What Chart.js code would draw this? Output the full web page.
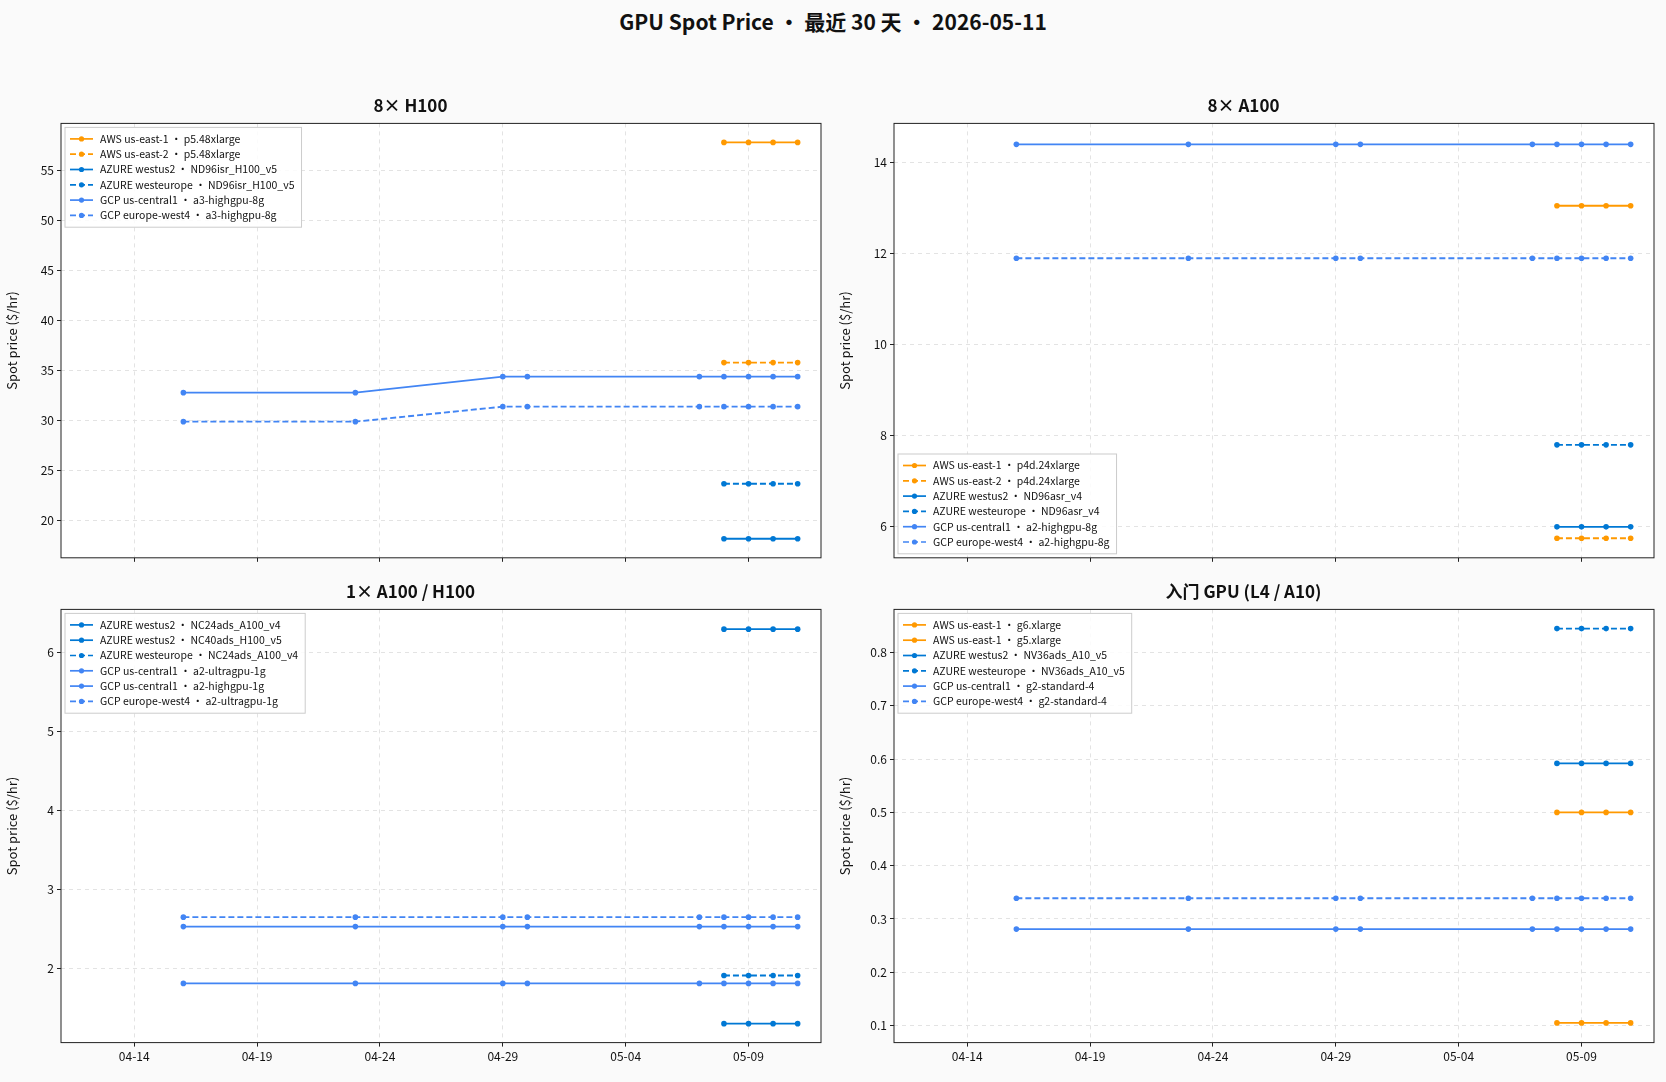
<!DOCTYPE html>
<html><head><meta charset="utf-8">
<script src="https://cdn.jsdelivr.net/npm/chart.js@4"></script>
<style>
body{margin:0;background:#fafafa;font-family:"Noto Sans CJK SC",sans-serif;}
#sup{position:absolute;top:6px;left:0;width:1666px;text-align:center;font-weight:bold;font-size:21px;color:#111;}
.box{position:absolute;}
</style></head><body>
<div id="sup">GPU Spot Price · 最近 30 天 · 2026-05-11</div>
<div class="box" style="left:0;top:93px;width:831px;height:475px"><canvas id="c0"></canvas></div>
<div class="box" style="left:833px;top:93px;width:831px;height:475px"><canvas id="c1"></canvas></div>
<div class="box" style="left:0;top:579px;width:831px;height:488px"><canvas id="c2"></canvas></div>
<div class="box" style="left:833px;top:579px;width:831px;height:488px"><canvas id="c3"></canvas></div>
<script>
const AWS = '#ff9900', AZ = '#0078d4', GCP = '#4285f4';
const longDates = ['04-16','04-23','04-29','04-30','05-07','05-08','05-09','05-10','05-11'];
const lateDates = ['05-08','05-09','05-10','05-11'];
const tickDates = ['04-14','04-19','04-24','04-29','05-04','05-09'];

// 8x H100
const h100Names = ['AWS us-east-1 · p5.48xlarge','AWS us-east-2 · p5.48xlarge','AZURE westus2 · ND96isr_H100_v5','AZURE westeurope · ND96isr_H100_v5','GCP us-central1 · a3-highgpu-8g','GCP europe-west4 · a3-highgpu-8g'];
const h100AwsE1 = [57.8,57.8,57.8,57.8];
const h100AwsE2 = [35.8,35.8,35.8,35.8];
const h100AzWus2 = [18.2,18.2,18.2,18.2];
const h100AzWeu = [23.7,23.7,23.7,23.7];
const h100GcpUsc = [32.8,32.8,34.4,34.4,34.4,34.4,34.4,34.4,34.4];
const h100GcpEuw = [29.9,29.9,31.4,31.4,31.4,31.4,31.4,31.4,31.4];

// 8x A100
const a100Names = ['AWS us-east-1 · p4d.24xlarge','AWS us-east-2 · p4d.24xlarge','AZURE westus2 · ND96asr_v4','AZURE westeurope · ND96asr_v4','GCP us-central1 · a2-highgpu-8g','GCP europe-west4 · a2-highgpu-8g'];
const a100AwsE1 = [13.05,13.05,13.05,13.05];
const a100AwsE2 = [5.75,5.75,5.75,5.75];
const a100AzWus2 = [6.0,6.0,6.0,6.0];
const a100AzWeu = [7.8,7.8,7.8,7.8];
const a100GcpUsc = [14.4,14.4,14.4,14.4,14.4,14.4,14.4,14.4,14.4];
const a100GcpEuw = [11.9,11.9,11.9,11.9,11.9,11.9,11.9,11.9,11.9];

// 1x A100 / H100
const oneNames = ['AZURE westus2 · NC24ads_A100_v4','AZURE westus2 · NC40ads_H100_v5','AZURE westeurope · NC24ads_A100_v4','GCP us-central1 · a2-ultragpu-1g','GCP us-central1 · a2-highgpu-1g','GCP europe-west4 · a2-ultragpu-1g'];
const oneAzA100 = [1.3,1.3,1.3,1.3];
const oneAzH100 = [6.3,6.3,6.3,6.3];
const oneAzWeu = [1.91,1.91,1.91,1.91];
const oneGcpUltra = [2.53,2.53,2.53,2.53,2.53,2.53,2.53,2.53,2.53];
const oneGcpHigh = [1.81,1.81,1.81,1.81,1.81,1.81,1.81,1.81,1.81];
const oneGcpEuw = [2.65,2.65,2.65,2.65,2.65,2.65,2.65,2.65,2.65];

// entry GPU
const entNames = ['AWS us-east-1 · g6.xlarge','AWS us-east-1 · g5.xlarge','AZURE westus2 · NV36ads_A10_v5','AZURE westeurope · NV36ads_A10_v5','GCP us-central1 · g2-standard-4','GCP europe-west4 · g2-standard-4'];
const entAwsG6 = [0.105,0.105,0.105,0.105];
const entAwsG5 = [0.50,0.50,0.50,0.50];
const entAzWus2 = [0.592,0.592,0.592,0.592];
const entAzWeu = [0.845,0.845,0.845,0.845];
const entGcpUsc = [0.281,0.281,0.281,0.281,0.281,0.281,0.281,0.281,0.281];
const entGcpEuw = [0.339,0.339,0.339,0.339,0.339,0.339,0.339,0.339,0.339];

function dayNum(s) {
    const [m, d] = s.split('-').map(Number);
    return m === 4 ? d - 14 : 16 + d;
}
function dayLabel(n) {
    const d = n + 14;
    return d <= 30 ? '04-' + String(d).padStart(2, '0') : '05-' + String(d - 30).padStart(2, '0');
}
function ds(label, dates, vals, color, dashed) {
    return {
        label: label, borderColor: color, backgroundColor: color,
        data: dates.map((t, i) => ({ x: dayNum(t), y: vals[i] })),
        borderDash: dashed ? [6, 3] : [], borderWidth: 1.9, pointRadius: 2.8,
        pointBorderWidth: 0, tension: 0
    };
}

const frame = {
    id: 'frame',
    beforeDraw(chart) {
        const a = chart.chartArea, c = chart.ctx;
        c.save(); c.fillStyle = '#fff';
        c.fillRect(a.left, a.top, a.right - a.left, a.bottom - a.top);
        c.restore();
    },
    afterDraw(chart) {
        const a = chart.chartArea, c = chart.ctx;
        c.save(); c.strokeStyle = '#222'; c.lineWidth = 1;
        c.strokeRect(a.left, a.top, a.right - a.left, a.bottom - a.top);
        // inner legend
        const pos = chart.options.plugins.innerLegend;
        const sets = chart.data.datasets;
        c.font = '10.5px "Noto Sans CJK SC"';
        let w = 0;
        sets.forEach(s => w = Math.max(w, c.measureText(s.label).width));
        const bw = w + 42, bh = sets.length * 15.3 + 8;
        const x = a.left + 4, y = pos === 'lower' ? a.bottom - bh - 4 : a.top + 4;
        c.fillStyle = 'rgba(255,255,255,0.85)'; c.strokeStyle = '#ccc';
        c.fillRect(x, y, bw, bh); c.strokeRect(x, y, bw, bh);
        sets.forEach((s, i) => {
            const yy = y + 11.5 + i * 15.3;
            c.strokeStyle = s.borderColor; c.lineWidth = 1.7;
            c.setLineDash(s.borderDash); c.beginPath(); c.moveTo(x + 5, yy); c.lineTo(x + 28, yy); c.stroke();
            c.setLineDash([]); c.fillStyle = s.borderColor;
            c.beginPath(); c.arc(x + 16.5, yy, 2.6, 0, Math.PI * 2); c.fill();
            c.fillStyle = '#111'; c.textBaseline = 'middle'; c.fillText(s.label, x + 35, yy);
        });
        c.restore();
    }
};

function makeChart(id, title, datasets, yMin, yMax, step, showX, legendPos, yWidth) {
    new Chart(document.getElementById(id), {
        type: 'line',
        data: { datasets: datasets },
        plugins: [frame],
        options: {
            responsive: true, maintainAspectRatio: false, animation: false,
            layout: { padding: { right: 10, bottom: showX ? 0 : 4 } },
            plugins: {
                legend: { display: false }, tooltip: { enabled: false },
                title: { display: true, text: title, color: '#111', font: { family: 'Noto Sans CJK SC', size: 17, weight: 'bold' }, padding: { top: 2, bottom: 8 } },
                innerLegend: legendPos
            },
            scales: {
                x: {
                    type: 'linear', min: -2.98, max: 27.95,
                    afterBuildTicks: ax => { ax.ticks = tickDates.map(t => ({ value: dayNum(t) })); },
                    ticks: { display: showX, callback: v => dayLabel(v), color: '#111', font: { family: 'Noto Sans CJK SC', size: 12 }, maxRotation: 0 },
                    grid: { color: '#e3e3e3', drawTicks: true, tickColor: '#222', tickLength: 4 },
                    border: { dash: [4, 4], display: false }
                },
                y: {
                    min: yMin, max: yMax,
                    afterBuildTicks: ax => {
                        const t = [];
                        for (let v = Math.ceil(yMin / step) * step; v <= yMax + 1e-9; v += step) t.push({ value: +v.toFixed(3) });
                        ax.ticks = t;
                    },
                    afterFit: ax => { ax.width = yWidth; },
                    ticks: { color: '#111', font: { family: 'Noto Sans CJK SC', size: 12 }, callback: v => String(+v.toFixed(2)) },
                    title: { display: true, text: 'Spot price ($/hr)', color: '#111', font: { family: 'Noto Sans CJK SC', size: 13 } },
                    grid: { color: '#e3e3e3', tickColor: '#222', tickLength: 4 },
                    border: { dash: [4, 4], display: false }
                }
            }
        }
    });
}

makeChart('c0', '8× H100', [
    ds(h100Names[0], lateDates, h100AwsE1, AWS, false),
    ds(h100Names[1], lateDates, h100AwsE2, AWS, true),
    ds(h100Names[2], lateDates, h100AzWus2, AZ, false),
    ds(h100Names[3], lateDates, h100AzWeu, AZ, true),
    ds(h100Names[4], longDates, h100GcpUsc, GCP, false),
    ds(h100Names[5], longDates, h100GcpEuw, GCP, true)
], 16.3, 59.7, 5, false, 'upper', 61);

makeChart('c1', '8× A100', [
    ds(a100Names[0], lateDates, a100AwsE1, AWS, false),
    ds(a100Names[1], lateDates, a100AwsE2, AWS, true),
    ds(a100Names[2], lateDates, a100AzWus2, AZ, false),
    ds(a100Names[3], lateDates, a100AzWeu, AZ, true),
    ds(a100Names[4], longDates, a100GcpUsc, GCP, false),
    ds(a100Names[5], longDates, a100GcpEuw, GCP, true)
], 5.32, 14.86, 2, false, 'lower', 61);

makeChart('c2', '1× A100 / H100', [
    ds(oneNames[0], lateDates, oneAzA100, AZ, false),
    ds(oneNames[1], lateDates, oneAzH100, AZ, false),
    ds(oneNames[2], lateDates, oneAzWeu, AZ, true),
    ds(oneNames[3], longDates, oneGcpUltra, GCP, false),
    ds(oneNames[4], longDates, oneGcpHigh, GCP, false),
    ds(oneNames[5], longDates, oneGcpEuw, GCP, true)
], 1.06, 6.55, 1, true, 'upper', 61);

makeChart('c3', '入门 GPU (L4 / A10)', [
    ds(entNames[0], lateDates, entAwsG6, AWS, false),
    ds(entNames[1], lateDates, entAwsG5, AWS, false),
    ds(entNames[2], lateDates, entAzWus2, AZ, false),
    ds(entNames[3], lateDates, entAzWeu, AZ, true),
    ds(entNames[4], longDates, entGcpUsc, GCP, false),
    ds(entNames[5], longDates, entGcpEuw, GCP, true)
], 0.068, 0.881, 0.1, true, 'upper', 61);
</script>
</body></html>
